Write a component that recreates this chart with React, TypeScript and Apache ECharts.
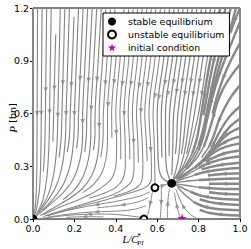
import React, { useEffect, useRef } from "react";
import * as echarts from "echarts";

type Pt = [number, number];

// ---------- data ----------
const xTickValues = [0, 0.2, 0.4, 0.6, 0.8, 1.0];
const yTickValues = [0, 0.3, 0.6, 0.9, 1.2];
const seriesNames = ["stable equilibrium", "unstable equilibrium", "initial condition"];

const stableEquilibria: Pt[] = [[0, 0], [0.67, 0.203]];
const unstableEquilibria: Pt[] = [[0.536, 0], [0.589, 0.178]];
const initialConditions: Pt[] = [[0.72, 0.006]];

// streamlines, listed in the direction of flow
const edgeStreams: Pt[][] = [
  [[0, 1.2], [0, 0]],
  [[1, 1.2], [1, 0]],
];

const leftStreams: Pt[][] = [
  [[0.022, 1.2], [0.021, 0.9], [0.02, 0.6], [0.019, 0.35], [0.016, 0.15], [0.009, 0.05], [0.001, 0.002]],
  [[0.044, 1.2], [0.042, 0.9], [0.04, 0.6], [0.038, 0.38], [0.032, 0.18], [0.018, 0.065], [0.004, 0.008]],
  [[0.066, 1.2], [0.063, 0.9], [0.06, 0.6], [0.057, 0.42], [0.05, 0.27]],
  [[0.088, 1.2], [0.084, 0.9], [0.08, 0.6], [0.077, 0.42], [0.068, 0.25], [0.048, 0.11], [0.018, 0.03]],
  [[0.11, 1.05], [0.105, 0.85], [0.1, 0.6], [0.096, 0.44]],
  [[0.132, 1.2], [0.126, 0.9], [0.12, 0.6], [0.116, 0.43], [0.102, 0.27], [0.074, 0.14], [0.032, 0.05], [0.006, 0.007]],
  [[0.154, 1.2], [0.147, 0.9], [0.14, 0.6], [0.136, 0.46], [0.126, 0.35]],
  [[0.176, 1.2], [0.168, 0.9], [0.16, 0.6], [0.156, 0.45], [0.142, 0.31], [0.113, 0.19], [0.068, 0.1], [0.027, 0.035]],
  [[0.198, 1.15], [0.19, 0.9], [0.18, 0.6], [0.176, 0.47], [0.166, 0.38]],
  [[0.22, 1.2], [0.21, 0.9], [0.2, 0.6], [0.197, 0.46], [0.182, 0.32], [0.152, 0.21], [0.102, 0.12], [0.045, 0.05]],
  [[0.242, 1.2], [0.231, 0.9], [0.22, 0.6], [0.218, 0.48], [0.21, 0.4]],
  [[0.264, 1.2], [0.252, 0.9], [0.24, 0.6], [0.239, 0.45], [0.226, 0.33], [0.196, 0.23], [0.145, 0.148], [0.09, 0.09], [0.04, 0.04], [0.008, 0.008]],
  [[0.286, 1.2], [0.273, 0.9], [0.26, 0.6], [0.258, 0.48], [0.25, 0.38]],
  [[0.308, 1.2], [0.294, 0.9], [0.28, 0.6], [0.279, 0.46], [0.268, 0.34], [0.243, 0.245], [0.2, 0.165], [0.145, 0.11]],
  [[0.33, 1.2], [0.315, 0.9], [0.3, 0.6], [0.299, 0.47], [0.292, 0.39]],
  [[0.352, 1.2], [0.336, 0.9], [0.32, 0.6], [0.32, 0.46], [0.31, 0.34], [0.285, 0.25], [0.24, 0.175], [0.17, 0.112], [0.095, 0.06], [0.035, 0.02]],
];

const centerStreams: Pt[][] = [
  [[0.374, 1.2], [0.357, 0.9], [0.34, 0.6], [0.338, 0.45], [0.327, 0.35]],
  [[0.396, 1.2], [0.378, 0.9], [0.36, 0.6], [0.36, 0.45], [0.352, 0.34], [0.332, 0.26], [0.295, 0.2], [0.24, 0.15]],
  [[0.418, 1.1], [0.4, 0.9], [0.38, 0.6], [0.381, 0.46]],
  [[0.44, 1.2], [0.42, 0.9], [0.4, 0.6], [0.404, 0.45], [0.402, 0.32], [0.385, 0.24], [0.35, 0.195], [0.3, 0.155], [0.22, 0.11], [0.13, 0.068], [0.05, 0.024]],
  [[0.462, 1.2], [0.441, 0.9], [0.42, 0.6], [0.424, 0.45], [0.424, 0.34]],
  [[0.484, 1.2], [0.462, 0.9], [0.44, 0.6], [0.445, 0.45], [0.446, 0.31], [0.435, 0.23], [0.4, 0.18], [0.34, 0.145], [0.27, 0.118]],
  [[0.506, 1.2], [0.483, 0.9], [0.46, 0.6], [0.466, 0.45], [0.468, 0.34]],
  [[0.528, 1.2], [0.504, 0.9], [0.48, 0.6], [0.486, 0.45], [0.488, 0.3], [0.478, 0.22], [0.444, 0.177], [0.388, 0.14], [0.32, 0.112], [0.23, 0.08], [0.14, 0.048], [0.06, 0.018]],
  [[0.55, 1.2], [0.525, 0.9], [0.5, 0.6], [0.506, 0.45], [0.509, 0.32]],
  [[0.572, 1.2], [0.546, 0.9], [0.52, 0.6], [0.527, 0.45], [0.531, 0.3], [0.526, 0.22], [0.505, 0.182], [0.455, 0.153], [0.39, 0.13]],
  [[0.594, 1.2], [0.567, 0.9], [0.54, 0.6], [0.547, 0.45], [0.552, 0.33]],
  [[0.616, 1.2], [0.588, 0.9], [0.56, 0.6], [0.567, 0.45], [0.572, 0.3], [0.572, 0.23], [0.56, 0.195], [0.53, 0.172], [0.48, 0.152], [0.41, 0.128], [0.33, 0.102], [0.24, 0.075], [0.15, 0.045], [0.07, 0.018]],
  [[0.638, 1.2], [0.609, 0.9], [0.58, 0.6], [0.585, 0.45], [0.588, 0.3], [0.589, 0.2]],
];

const nodeStreams: Pt[][] = [
  [[0.66, 1.2], [0.63, 0.9], [0.6, 0.6], [0.602, 0.45], [0.605, 0.33], [0.613, 0.26], [0.632, 0.225], [0.658, 0.21]],
  [[0.682, 1.2], [0.651, 0.9], [0.62, 0.6], [0.621, 0.45], [0.623, 0.35]],
  [[0.704, 1.2], [0.672, 0.9], [0.64, 0.6], [0.64, 0.45], [0.642, 0.33], [0.648, 0.27], [0.66, 0.228]],
  [[0.726, 1.2], [0.693, 0.9], [0.66, 0.6], [0.658, 0.45], [0.658, 0.36]],
  [[0.748, 1.2], [0.714, 0.9], [0.68, 0.6], [0.676, 0.45], [0.673, 0.33], [0.671, 0.25]],
  [[0.77, 1.2], [0.735, 0.9], [0.7, 0.6], [0.694, 0.45], [0.688, 0.37]],
  [[0.792, 1.2], [0.756, 0.9], [0.72, 0.6], [0.711, 0.45], [0.703, 0.35], [0.69, 0.275], [0.678, 0.23]],
  [[0.814, 1.2], [0.777, 0.9], [0.74, 0.6], [0.727, 0.45], [0.717, 0.37]],
  [[0.836, 1.2], [0.798, 0.9], [0.76, 0.6], [0.742, 0.45], [0.728, 0.36], [0.708, 0.28], [0.686, 0.232]],
  [[0.858, 1.2], [0.819, 0.9], [0.78, 0.6], [0.757, 0.45], [0.742, 0.37]],
  [[0.88, 1.2], [0.84, 0.9], [0.8, 0.6], [0.77, 0.45], [0.75, 0.37], [0.725, 0.3], [0.697, 0.245]],
];

const topRightStreams: Pt[][] = [
  [[0.905, 1.2], [0.872, 1.0], [0.845, 0.83], [0.824, 0.68], [0.808, 0.56], [0.79, 0.45], [0.768, 0.37], [0.735, 0.3], [0.7, 0.25], [0.68, 0.225]],
  [[0.93, 1.2], [0.893, 1.0], [0.862, 0.84], [0.84, 0.7], [0.823, 0.59]],
  [[0.955, 1.2], [0.915, 1.0], [0.882, 0.85], [0.857, 0.71], [0.838, 0.6], [0.82, 0.5], [0.8, 0.42], [0.77, 0.35], [0.735, 0.29]],
  [[0.98, 1.2], [0.937, 1.01], [0.9, 0.87], [0.872, 0.74], [0.852, 0.63]],
  [[1.0, 1.2], [0.975, 1.13], [0.955, 1.06]],
  [[1.0, 1.12], [0.955, 0.99], [0.915, 0.87], [0.883, 0.76], [0.86, 0.66], [0.84, 0.56], [0.823, 0.47], [0.8, 0.39], [0.765, 0.32], [0.72, 0.26], [0.69, 0.228]],
  [[1.0, 1.0], [0.955, 0.9], [0.918, 0.8], [0.89, 0.7], [0.868, 0.6]],
  [[1.0, 0.88], [0.955, 0.81], [0.918, 0.74], [0.89, 0.66], [0.868, 0.57], [0.848, 0.49], [0.825, 0.41], [0.79, 0.345], [0.745, 0.285]],
  [[1.0, 0.76], [0.96, 0.7], [0.925, 0.63], [0.898, 0.56], [0.875, 0.48], [0.85, 0.41], [0.815, 0.35]],
  [[1.0, 0.64], [0.955, 0.59], [0.918, 0.53], [0.89, 0.47], [0.865, 0.41], [0.83, 0.35], [0.785, 0.3], [0.735, 0.258], [0.697, 0.23]],
];

const rightFanStreams: Pt[][] = [
  [[1.0, 0.57], [0.955, 0.53], [0.92, 0.48], [0.89, 0.43], [0.86, 0.38]],
  [[1.0, 0.52], [0.95, 0.49], [0.91, 0.45], [0.875, 0.4], [0.84, 0.35], [0.795, 0.305], [0.745, 0.265], [0.7, 0.232]],
  [[1.0, 0.47], [0.94, 0.445], [0.89, 0.41], [0.85, 0.37]],
  [[1.0, 0.43], [0.93, 0.41], [0.875, 0.38], [0.83, 0.335], [0.78, 0.29], [0.73, 0.25], [0.693, 0.225]],
  [[1.0, 0.39], [0.93, 0.375], [0.875, 0.35], [0.835, 0.325]],
  [[1.0, 0.355], [0.92, 0.342], [0.855, 0.32], [0.8, 0.29], [0.75, 0.255], [0.7, 0.222]],
  [[1.0, 0.32], [0.92, 0.31], [0.855, 0.295], [0.815, 0.282]],
  [[1.0, 0.29], [0.92, 0.283], [0.845, 0.27], [0.78, 0.25], [0.725, 0.228], [0.683, 0.21]],
  [[1.0, 0.26], [0.92, 0.256], [0.845, 0.248]],
  [[1.0, 0.23], [0.9, 0.228], [0.8, 0.222], [0.735, 0.214], [0.688, 0.207]],
  [[1.0, 0.2], [0.92, 0.2], [0.85, 0.201]],
  [[1.0, 0.17], [0.9, 0.172], [0.8, 0.18], [0.735, 0.192], [0.688, 0.2]],
  [[1.0, 0.14], [0.92, 0.143], [0.85, 0.152]],
  [[1.0, 0.11], [0.9, 0.115], [0.82, 0.13], [0.76, 0.155], [0.712, 0.182], [0.682, 0.197]],
  [[1.0, 0.08], [0.92, 0.085], [0.855, 0.096], [0.805, 0.112]],
  [[1.0, 0.05], [0.9, 0.055], [0.83, 0.07], [0.776, 0.098], [0.732, 0.14], [0.698, 0.18]],
  [[1.0, 0.02], [0.92, 0.024], [0.855, 0.034], [0.805, 0.052]],
];

const lowerStreams: Pt[][] = [
  [[0.79, 0.004], [0.758, 0.028], [0.728, 0.068], [0.706, 0.12], [0.69, 0.17]],
  [[0.712, 0.004], [0.7, 0.05], [0.69, 0.1], [0.683, 0.15]],
  [[0.65, 0.004], [0.65, 0.06], [0.653, 0.12], [0.66, 0.175]],
  [[0.62, 0.185], [0.62, 0.12], [0.618, 0.06], [0.615, 0.004]],
  [[0.578, 0.16], [0.57, 0.11], [0.562, 0.06], [0.552, 0.018]],
  [[0.598, 0.18], [0.625, 0.19], [0.65, 0.2], [0.662, 0.204]],
  [[0.53, 0.008], [0.45, 0.02], [0.36, 0.028], [0.26, 0.027], [0.16, 0.02], [0.07, 0.008], [0.015, 0.001]],
  [[0.545, 0.075], [0.49, 0.055], [0.42, 0.046], [0.33, 0.042], [0.24, 0.036], [0.15, 0.024], [0.07, 0.01]],
  [[0.555, 0.12], [0.51, 0.098], [0.45, 0.083], [0.38, 0.072], [0.31, 0.064]],
  [[0.565, 0.155], [0.52, 0.132], [0.46, 0.114], [0.39, 0.098], [0.31, 0.082], [0.22, 0.062], [0.13, 0.04], [0.05, 0.014]],
  [[0.34, 0.012], [0.25, 0.013], [0.16, 0.009]],
];

// ---------- styles ----------
const STREAM_COLOR = "#888888";
const STAR = "M0,-1L0.2245,-0.309L0.9511,-0.309L0.3633,0.118L0.5878,0.809L0,0.382L-0.5878,0.809L-0.3633,0.118L-0.9511,-0.309L-0.2245,-0.309Z";
const GRID = { left: 33, right: 11, top: 8, bottom: 30 };
const PLOT_W = 251 - GRID.left - GRID.right;
const PLOT_H = 249 - GRID.top - GRID.bottom;
const KX = PLOT_W / 1.0;
const KY = PLOT_H / 1.2;

type Family = { lines: Pt[][]; width: number; innerWidth?: number; inner?: (p: Pt) => boolean; arrows: boolean };
const families: Family[] = [
  { lines: edgeStreams, width: 1.8, arrows: false },
  { lines: leftStreams, width: 1.15, arrows: true },
  { lines: centerStreams, width: 1.05, arrows: true },
  { lines: nodeStreams, width: 1.25, arrows: true },
  { lines: topRightStreams, width: 2.4, innerWidth: 1.5, inner: (p) => p[1] < 0.45, arrows: true },
  { lines: rightFanStreams, width: 2.5, innerWidth: 1.4, inner: (p) => p[0] < 0.82, arrows: true },
  { lines: lowerStreams, width: 1.0, arrows: true },
];

function arrowFor(pts: Pt[]) {
  const seg: number[] = [];
  let total = 0;
  for (let i = 1; i < pts.length; i++) {
    const d = Math.hypot((pts[i][0] - pts[i - 1][0]) * KX, (pts[i][1] - pts[i - 1][1]) * KY);
    seg.push(d);
    total += d;
  }
  const half = total / 2;
  let acc = 0;
  for (let i = 0; i < seg.length; i++) {
    if (acc + seg[i] >= half) {
      const t = seg[i] > 0 ? (half - acc) / seg[i] : 0;
      const a = pts[i];
      const b = pts[i + 1];
      const ang = (Math.atan2((b[1] - a[1]) * KY, (b[0] - a[0]) * KX) * 180) / Math.PI;
      return { value: [a[0] + (b[0] - a[0]) * t, a[1] + (b[1] - a[1]) * t], symbolRotate: ang - 90 };
    }
    acc += seg[i];
  }
  return null;
}

function lineSeries(data: Pt[], width: number) {
  return {
    type: "line",
    data,
    smooth: 0.35,
    showSymbol: false,
    symbol: "none",
    silent: true,
    z: 2,
    lineStyle: { color: STREAM_COLOR, width },
  };
}

function buildStreamSeries() {
  const out: any[] = [];
  const arrows: any[] = [];
  families.forEach((fam) => {
    fam.lines.forEach((pts) => {
      if (fam.inner && fam.innerWidth) {
        const k = pts.findIndex((p) => fam.inner!(p));
        if (k > 0) {
          out.push(lineSeries(pts.slice(0, k + 1), fam.width));
          out.push(lineSeries(pts.slice(k), fam.innerWidth));
        } else if (k === 0) {
          out.push(lineSeries(pts, fam.innerWidth));
        } else {
          out.push(lineSeries(pts, fam.width));
        }
      } else {
        out.push(lineSeries(pts, fam.width));
      }
      if (fam.arrows) {
        const a = arrowFor(pts);
        if (a) arrows.push(a);
      }
    });
  });
  out.push({
    type: "scatter",
    data: arrows,
    symbol: "triangle",
    symbolSize: [4.5, 5],
    silent: true,
    z: 3,
    itemStyle: { color: STREAM_COLOR },
  });
  return out;
}

export default function App() {
  const ref = useRef<HTMLDivElement>(null);
  useEffect(() => {
    if (!ref.current) return;
    const chart = echarts.init(ref.current, undefined, { renderer: "svg" });
    const tickFont = { color: "#000", fontSize: 9.5, fontFamily: "DejaVu Sans" };
    const option: any = {
      animation: false,
      grid: { ...GRID, show: true, borderColor: "#000", borderWidth: 1, backgroundColor: "transparent" },
      xAxis: {
        type: "value",
        min: xTickValues[0],
        max: xTickValues[xTickValues.length - 1],
        interval: 0.2,
        axisLine: { show: false },
        axisTick: { show: true, length: 3, lineStyle: { color: "#000" } },
        axisLabel: { ...tickFont, margin: 4, formatter: (v: number) => v.toFixed(1) },
        splitLine: { show: false },
      },
      yAxis: {
        type: "value",
        min: yTickValues[0],
        max: yTickValues[yTickValues.length - 1],
        interval: 0.3,
        axisLine: { show: false },
        axisTick: { show: true, length: 3, lineStyle: { color: "#000" } },
        axisLabel: { ...tickFont, margin: 4, formatter: (v: number) => v.toFixed(1) },
        splitLine: { show: false },
      },
      legend: {
        show: true,
        orient: "vertical",
        left: 103,
        top: 13,
        selectedMode: false,
        itemWidth: 22,
        itemHeight: 8,
        itemGap: 2,
        padding: [3, 5, 3, 4],
        backgroundColor: "#fff",
        borderColor: "#000",
        borderWidth: 1,
        borderRadius: 0,
        z: 20,
        textStyle: { fontSize: 9.4, fontFamily: "DejaVu Sans", color: "#000", lineHeight: 11 },
        data: [
          { name: seriesNames[0], icon: "circle", itemStyle: { color: "#000" } },
          { name: seriesNames[1], icon: "circle", itemStyle: { color: "#fff", borderColor: "#000", borderWidth: 2 } },
          { name: seriesNames[2], icon: "path://" + STAR, itemStyle: { color: "#bf00bf" } },
        ],
      },
      graphic: [
        {
          type: "text", x: 122.5, y: 239.5, silent: true,
          style: { text: "L/C", fontFamily: "Liberation Serif", fontStyle: "italic", fontSize: 10.5, fill: "#000", align: "left", verticalAlign: "middle", textAlign: "left", textVerticalAlign: "middle" },
        },
        {
          type: "text", x: 137.3, y: 236, silent: true,
          style: { text: "*", fontFamily: "Liberation Serif", fontSize: 7.5, fill: "#000", align: "left", verticalAlign: "middle", textAlign: "left", textVerticalAlign: "middle" },
        },
        {
          type: "text", x: 137, y: 243, silent: true,
          style: { text: "PI", fontFamily: "Liberation Serif", fontStyle: "italic", fontSize: 7, fill: "#000", align: "left", verticalAlign: "middle", textAlign: "left", textVerticalAlign: "middle" },
        },
        {
          type: "text", x: 12.5, y: 118, rotation: Math.PI / 2, silent: true,
          style: {
            text: "{i|P} {n|[bn]}",
            align: "center", verticalAlign: "middle", textAlign: "center", textVerticalAlign: "middle",
            rich: {
              i: { fontFamily: "Liberation Serif", fontStyle: "italic", fontSize: 11, fill: "#000" },
              n: { fontFamily: "DejaVu Sans", fontSize: 9.5, fill: "#000" },
            },
          },
        },
      ],
      series: [
        ...buildStreamSeries(),
        {
          type: "custom", name: seriesNames[0], data: stableEquilibria, clip: true, z: 6, silent: true,
          itemStyle: { color: "#000" },
          renderItem: (_p: any, api: any) => {
            const c = api.coord([api.value(0), api.value(1)]);
            return { type: "circle", shape: { cx: c[0], cy: c[1], r: 4.4 }, style: { fill: "#000" } };
          },
        },
        {
          type: "custom", name: seriesNames[1], data: unstableEquilibria, clip: true, z: 6, silent: true,
          itemStyle: { color: "#fff", borderColor: "#000", borderWidth: 2 },
          renderItem: (_p: any, api: any) => {
            const c = api.coord([api.value(0), api.value(1)]);
            return { type: "circle", shape: { cx: c[0], cy: c[1], r: 3.4 }, style: { fill: "#fff", stroke: "#000", lineWidth: 2 } };
          },
        },
        {
          type: "custom", name: seriesNames[2], data: initialConditions, clip: true, z: 6, silent: true,
          itemStyle: { color: "#bf00bf" },
          renderItem: (_p: any, api: any) => {
            const c = api.coord([api.value(0), api.value(1)]);
            return {
              type: "path",
              shape: { pathData: STAR, x: c[0] - 4.7, y: c[1] - 4.7, width: 9.4, height: 9.4, layout: "center" },
              style: { fill: "#bf00bf" },
            };
          },
        },
      ],
    };
    chart.setOption(option);
    return () => chart.dispose();
  }, []);
  return <div ref={ref} style={{ position: "fixed", left: 0, top: 0, width: 251, height: 249, background: "#fff" }} />;
}
